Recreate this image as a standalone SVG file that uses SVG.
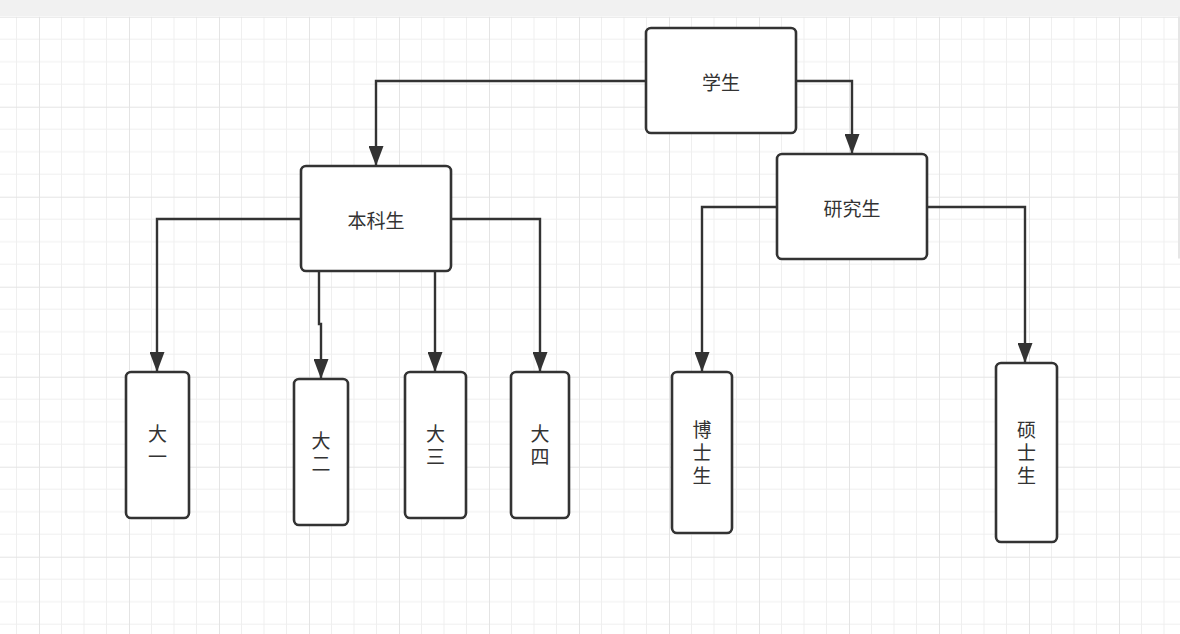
<svg xmlns="http://www.w3.org/2000/svg" width="1180" height="634" viewBox="0 0 1180 634">
  <style>
    .node rect { fill: #ffffff; stroke: #333333; stroke-width: 2.6; }
    .node text { font-family: "Microsoft YaHei", "Noto Sans CJK SC", "Noto Sans", sans-serif; font-size: 19px; fill: #333333; text-anchor: middle; dominant-baseline: central; }
    .node text.v { writing-mode: vertical-rl; letter-spacing: 4px; }
    .edge { fill: none; stroke: #333333; stroke-width: 2.4; marker-end: url(#arrow); }
  </style>
  <defs>
    <pattern id="grid" x="39" y="16.7" width="90" height="90" patternUnits="userSpaceOnUse">
      <path d="M22.5,0 V90 M45,0 V90 M67.5,0 V90 M0,22.5 H90 M0,45 H90 M0,67.5 H90" stroke="#efefef" stroke-width="1" fill="none"/>
      <path d="M0.5,0 V90 M0,0.5 H90" stroke="#e4e4e4" stroke-width="1" fill="none"/>
    </pattern>
    <marker id="arrow" viewBox="0 0 20 15" refX="20" refY="7.5" markerWidth="20" markerHeight="15" markerUnits="userSpaceOnUse" orient="auto">
      <path d="M0,0 L20,7.5 L0,15 Z" fill="#333333"/>
    </marker>
  </defs>

  <rect x="0" y="0" width="1180" height="634" fill="#ffffff"/>
  <rect x="0" y="16.7" width="1180" height="617.3" fill="url(#grid)"/>
  <rect x="0" y="0" width="1180" height="16.5" fill="#f1f1f1"/>
  <rect x="1178" y="16.5" width="2" height="242" fill="#e6e6e6"/>

  <g id="connectors">
    <path class="edge" d="M646,81 H376 V166"/>
    <path class="edge" d="M797,81 H852 V154"/>
    <path class="edge" d="M301,219 H157 V372"/>
    <path class="edge" d="M319,271 V324 H321 V379"/>
    <path class="edge" d="M435,271 V372"/>
    <path class="edge" d="M452,219 H540 V372"/>
    <path class="edge" d="M777,207 H702 V372"/>
    <path class="edge" d="M927,207 H1025 V363"/>
  </g>

  <g id="node-xuesheng" class="node">
    <rect x="646" y="28" width="150" height="105" rx="5"/>
    <text x="721" y="81">学生</text>
  </g>
  <g id="node-benkesheng" class="node">
    <rect x="301" y="166" width="150" height="105" rx="5"/>
    <text x="376" y="219">本科生</text>
  </g>
  <g id="node-yanjiusheng" class="node">
    <rect x="777" y="154" width="150" height="105" rx="5"/>
    <text x="852" y="207">研究生</text>
  </g>
  <g id="node-dayi" class="node">
    <rect x="126" y="372" width="63" height="146" rx="5"/>
    <text class="v" x="157.5" y="447">大一</text>
  </g>
  <g id="node-daer" class="node">
    <rect x="294" y="379" width="54" height="146" rx="5"/>
    <text class="v" x="321" y="454">大二</text>
  </g>
  <g id="node-dasan" class="node">
    <rect x="405" y="372" width="61" height="146" rx="5"/>
    <text class="v" x="435.5" y="447">大三</text>
  </g>
  <g id="node-dasi" class="node">
    <rect x="511" y="372" width="58" height="146" rx="5"/>
    <text class="v" x="540" y="447">大四</text>
  </g>
  <g id="node-boshisheng" class="node">
    <rect x="672" y="372" width="60" height="161" rx="5"/>
    <text class="v" x="702" y="454.5">博士生</text>
  </g>
  <g id="node-shuoshisheng" class="node">
    <rect x="996" y="363" width="61" height="179" rx="5"/>
    <text class="v" x="1026.5" y="454.5">硕士生</text>
  </g>
</svg>
